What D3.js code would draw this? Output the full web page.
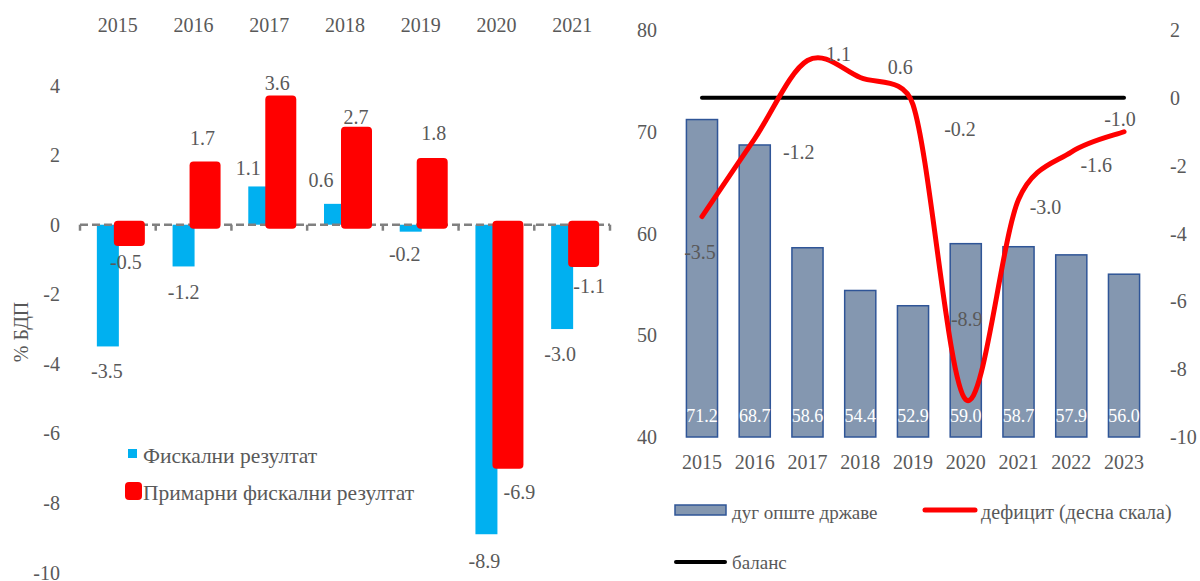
<!DOCTYPE html>
<html>
<head>
<meta charset="utf-8">
<script src="https://cdn.jsdelivr.net/npm/d3@7"></script>
<style>
html,body{margin:0;padding:0;background:#fff;}
svg{display:block;}
</style>
</head>
<body>
<svg id="chart" width="1200" height="581" font-family="'Liberation Serif','Times New Roman',serif"></svg>
<script>
// ---------- DATA ----------
const leftYears = ["2015","2016","2017","2018","2019","2020","2021"];
const fiscal = [-3.5, -1.2, 1.1, 0.6, -0.2, -8.9, -3.0];
const primary = [-0.5, 1.7, 3.6, 2.7, 1.8, -6.9, -1.1];
const leftTicks = [4, 2, 0, -2, -4, -6, -8, -10];

const rightYears = ["2015","2016","2017","2018","2019","2020","2021","2022","2023"];
const debt = [71.2, 68.7, 58.6, 54.4, 52.9, 59.0, 58.7, 57.9, 56.0];
const deficit = [-3.5, -1.2, 1.1, 0.6, -0.2, -8.9, -3.0, -1.6, -1.0];
const balance = [0, 0, 0, 0, 0, 0, 0, 0, 0];
const debtTicks = [40, 50, 60, 70, 80];
const deficitTicks = [2, 0, -2, -4, -6, -8, -10];

// label nudges (layout only)
const fiscalNudge = [[-1,25],[0,26],[-11,-18],[-14,-24],[-6,22],[-2,27],[-2,25]];
const primaryNudge = [[-4,20],[-3,-28],[-4,-17],[-1,-14],[1,-29],[11,27],[5,23]];
const deficitNudge = [[-2,35],[44,13],[31,-7],[40,-10],[47,24],[1,-81],[27,7],[25,13],[-4,-13]];

// ---------- STYLE ----------
const GRAY = "#595959", BLUE = "#00B0F0", RED = "#FF0000";
const DEBT_FILL = "#8497B0", DEBT_STROKE = "#2F5597";
const svg = d3.select("#chart");
svg.append("rect").attr("width",1200).attr("height",581).attr("fill","#fff");

// Excel-like smoothing: Catmull-Rom tangents (1/6), clamped by adjacent segment length
function ExcelSmooth(context){ this._context = context; }
ExcelSmooth.prototype = {
  areaStart(){ this._line = 0; }, areaEnd(){ this._line = NaN; },
  lineStart(){ this._pts = []; },
  point(x,y){ this._pts.push([+x,+y]); },
  lineEnd(){
    const p = this._pts, c = this._context, n = p.length;
    if (!n) return;
    c.moveTo(p[0][0], p[0][1]);
    const dist = (a,b)=>Math.hypot(b[0]-a[0], b[1]-a[1]);
    const tan = i => {
      const a = p[Math.max(0,i-1)], b = p[Math.min(n-1,i+1)];
      return [(b[0]-a[0])/6, (b[1]-a[1])/6];
    };
    const clamp = (t, maxLen) => {
      const l = Math.hypot(t[0], t[1]);
      return l > maxLen && l > 0 ? [t[0]*maxLen/l, t[1]*maxLen/l] : t;
    };
    for (let i = 0; i < n-1; i++) {
      const seg = dist(p[i], p[i+1]);
      const t0 = clamp(tan(i), seg*0.5), t1 = clamp(tan(i+1), seg*0.5);
      c.bezierCurveTo(p[i][0]+t0[0], p[i][1]+t0[1], p[i+1][0]-t1[0], p[i+1][1]-t1[1], p[i+1][0], p[i+1][1]);
    }
  }
};
const curveExcel = ctx => new ExcelSmooth(ctx);

// ================= LEFT CHART =================
const L = svg.append("g");
const xL = d3.scaleBand().domain(leftYears).range([80, 610]);
const yL = d3.scaleLinear().domain([-10, 4]).range([572.5, 85.6]);
const stepL = xL.step();
const cx = d => xL(d) + stepL/2;

L.selectAll(".ly").data(leftTicks).join("text")
  .attr("x", 60).attr("y", d => yL(d)).attr("dy","0.35em")
  .attr("text-anchor","end").attr("font-size",20).attr("fill",GRAY)
  .text(d => d);

L.selectAll(".lc").data(leftYears).join("text")
  .attr("x", d => cx(d)).attr("y", 25).attr("dy","0.35em")
  .attr("text-anchor","middle").attr("font-size",20).attr("fill",GRAY)
  .text(d => d);

L.append("text").attr("transform",`translate(21,332) rotate(-90)`)
  .attr("text-anchor","middle").attr("dy","0.35em").attr("font-size",20).attr("fill",GRAY)
  .text("% БДП");

L.selectAll(".fb").data(fiscal).join("rect")
  .attr("x",(d,i)=>cx(leftYears[i])-21).attr("width",22)
  .attr("y",d=>Math.min(yL(d),yL(0))).attr("height",d=>Math.abs(yL(d)-yL(0)))
  .attr("fill",BLUE);

L.append("line").attr("x1",80).attr("x2",610).attr("y1",yL(0)).attr("y2",yL(0))
  .attr("stroke","#808080").attr("stroke-width",2.5).attr("stroke-dasharray","8,4");
L.selectAll(".tk").data(d3.range(leftYears.length+1)).join("line")
  .attr("x1",i=>80+i*stepL).attr("x2",i=>80+i*stepL)
  .attr("y1",yL(0)).attr("y2",yL(0)+6)
  .attr("stroke","#808080").attr("stroke-width",2.5);

L.selectAll(".pb").data(primary).join("rect")
  .attr("x",(d,i)=>cx(leftYears[i])-4).attr("width",31)
  .attr("y",d=>Math.min(yL(d),yL(0))-4).attr("height",d=>Math.abs(yL(d)-yL(0))+8)
  .attr("rx",4).attr("fill",RED);

L.selectAll(".fl").data(fiscal).join("text")
  .attr("x",(d,i)=>cx(leftYears[i])-10+fiscalNudge[i][0])
  .attr("y",(d,i)=>yL(d)+fiscalNudge[i][1]).attr("dy","0.35em")
  .attr("text-anchor","middle").attr("font-size",20).attr("fill",GRAY)
  .text(d=>d.toFixed(1));
L.selectAll(".pl").data(primary).join("text")
  .attr("x",(d,i)=>cx(leftYears[i])+12+primaryNudge[i][0])
  .attr("y",(d,i)=>yL(d)+primaryNudge[i][1]).attr("dy","0.35em")
  .attr("text-anchor","middle").attr("font-size",20).attr("fill",GRAY)
  .text(d=>d.toFixed(1));

L.append("rect").attr("x",128).attr("y",449).attr("width",9).attr("height",9).attr("fill",BLUE);
L.append("text").attr("x",143).attr("y",455).attr("dy","0.35em").attr("font-size",21.5).attr("fill",GRAY)
  .text("Фискални резултат");
L.append("rect").attr("x",125).attr("y",482).attr("width",17).attr("height",18).attr("rx",4).attr("fill",RED);
L.append("text").attr("x",143).attr("y",492).attr("dy","0.35em").attr("font-size",21.5).attr("fill",GRAY)
  .text("Примарни фискални резултат");

// ================= RIGHT CHART =================
const R = svg.append("g");
const xR = d3.scaleBand().domain(rightYears).range([675.6, 1150.4]).paddingInner(0.41).paddingOuter(0.205);
const yD = d3.scaleLinear().domain([40, 80]).range([437, 30]);
const yF = d3.scaleLinear().domain([-10, 2]).range([437, 30]);
const cR = d => xR(d) + xR.bandwidth()/2;

R.selectAll(".ry").data(debtTicks).join("text")
  .attr("x",657).attr("y",d=>yD(d)).attr("dy","0.35em")
  .attr("text-anchor","end").attr("font-size",20).attr("fill",GRAY).text(d=>d);
R.selectAll(".ry2").data(deficitTicks).join("text")
  .attr("x",1170).attr("y",d=>yF(d)).attr("dy","0.35em")
  .attr("text-anchor","start").attr("font-size",20).attr("fill",GRAY).text(d=>d);
R.selectAll(".rx").data(rightYears).join("text")
  .attr("x",d=>cR(d)).attr("y",462).attr("dy","0.35em")
  .attr("text-anchor","middle").attr("font-size",20).attr("fill",GRAY).text(d=>d);

R.selectAll(".db").data(debt).join("rect")
  .attr("x",(d,i)=>xR(rightYears[i])).attr("width",xR.bandwidth())
  .attr("y",d=>yD(d)).attr("height",d=>yD(40)-yD(d))
  .attr("fill",DEBT_FILL).attr("stroke",DEBT_STROKE).attr("stroke-width",1.5);
R.selectAll(".dl").data(debt).join("text")
  .attr("x",(d,i)=>cR(rightYears[i])).attr("y",416).attr("dy","0.35em")
  .attr("text-anchor","middle").attr("font-size",18).attr("fill","#fff")
  .text(d=>d.toFixed(1));

const lineB = d3.line().x((d,i)=>cR(rightYears[i])).y(d=>yF(d));
R.append("path").datum(balance).attr("d",lineB)
  .attr("fill","none").attr("stroke","#000").attr("stroke-width",4).attr("stroke-linecap","round");

const lineF = d3.line().x((d,i)=>cR(rightYears[i])).y(d=>yF(d)).curve(curveExcel);
R.append("path").datum(deficit).attr("d",lineF)
  .attr("fill","none").attr("stroke",RED).attr("stroke-width",5).attr("stroke-linecap","round");

R.selectAll(".fl2").data(deficit).join("text")
  .attr("x",(d,i)=>cR(rightYears[i])+deficitNudge[i][0])
  .attr("y",(d,i)=>yF(d)+deficitNudge[i][1]).attr("dy","0.35em")
  .attr("text-anchor","middle").attr("font-size",20).attr("fill",GRAY)
  .text(d=>d.toFixed(1));

R.append("rect").attr("x",675).attr("y",505).attr("width",51).attr("height",10)
  .attr("fill",DEBT_FILL).attr("stroke",DEBT_STROKE).attr("stroke-width",1.5);
R.append("text").attr("x",732).attr("y",512).attr("dy","0.35em").attr("font-size",19).attr("fill",GRAY)
  .text("дуг опште државе");
R.append("line").attr("x1",925).attr("x2",975).attr("y1",510).attr("y2",510)
  .attr("stroke",RED).attr("stroke-width",5).attr("stroke-linecap","round");
R.append("text").attr("x",981).attr("y",512).attr("dy","0.35em").attr("font-size",20).attr("fill",GRAY)
  .text("дефицит (десна скала)");
R.append("line").attr("x1",676).attr("x2",725).attr("y1",562).attr("y2",562)
  .attr("stroke","#000").attr("stroke-width",4).attr("stroke-linecap","round");
R.append("text").attr("x",732).attr("y",562).attr("dy","0.35em").attr("font-size",19).attr("fill",GRAY)
  .text("баланс");
</script>
</body>
</html>
